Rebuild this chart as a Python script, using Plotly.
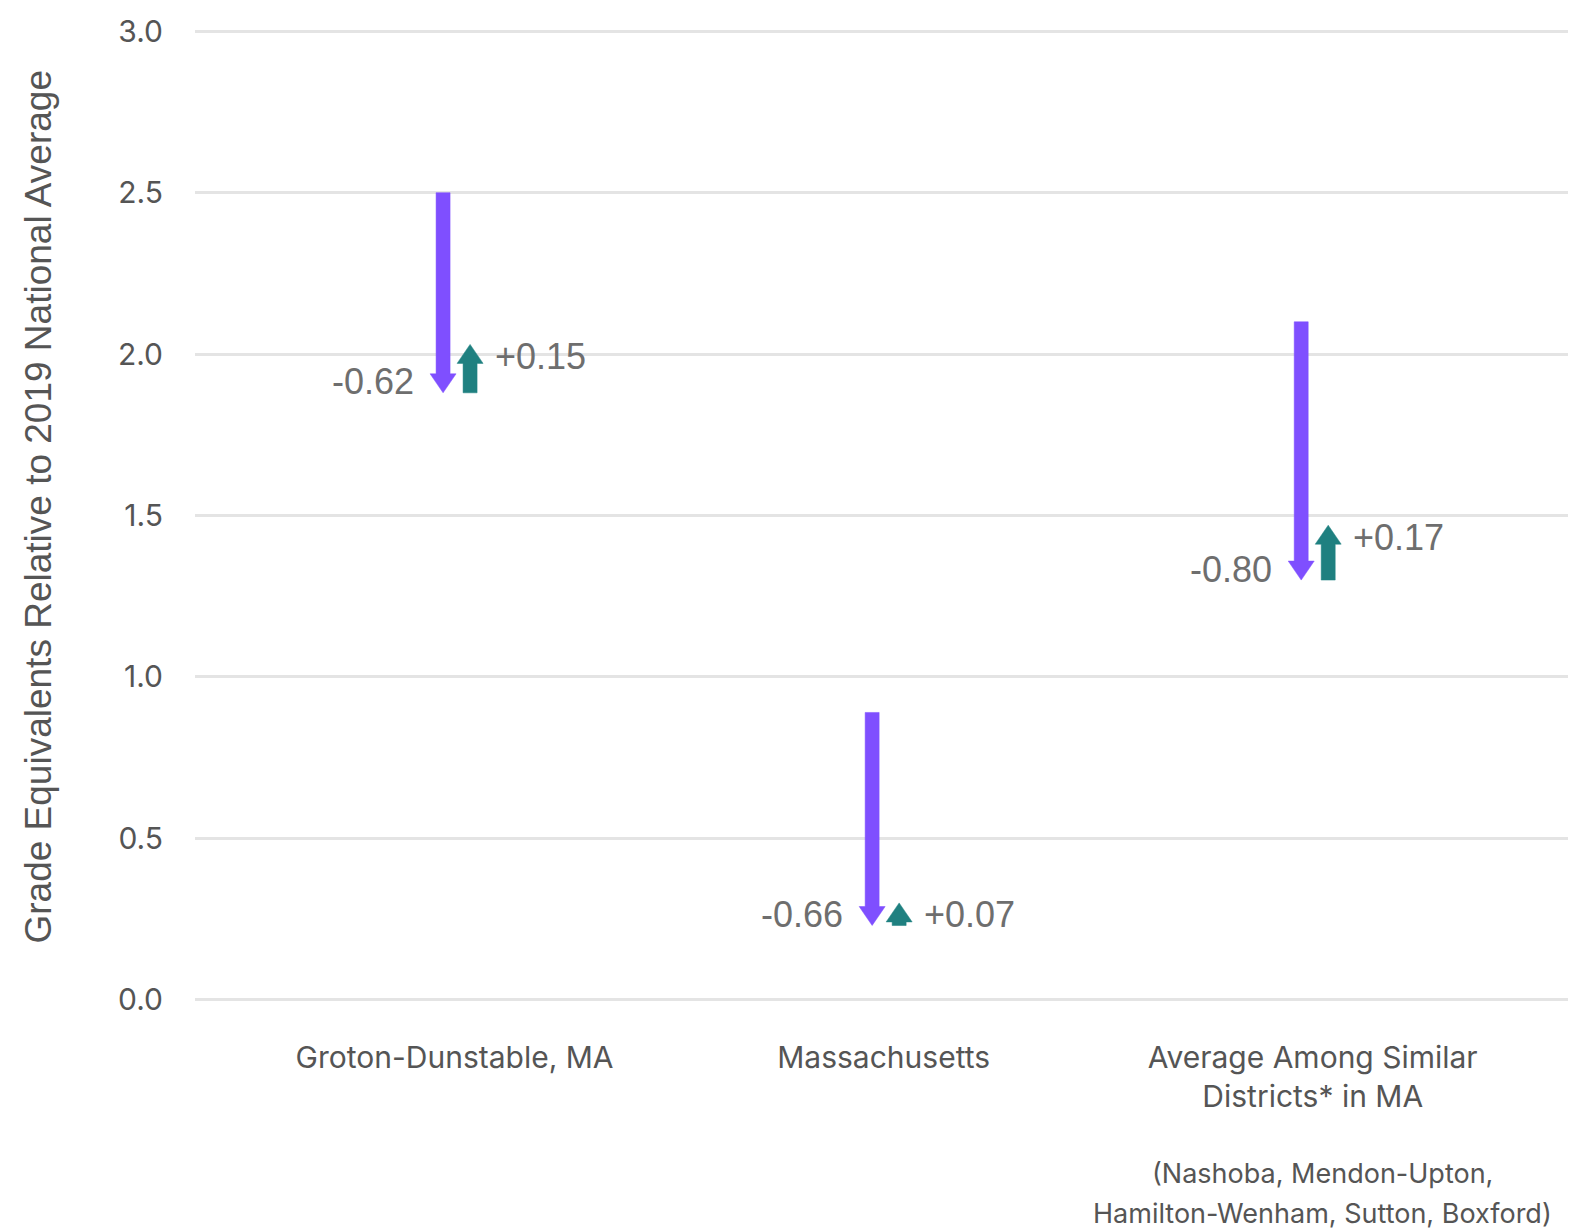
import plotly.graph_objects as go

# ---- data ----
categories = ["Groton-Dunstable, MA", "Massachusetts",
              "Average Among Similar<br>Districts* in MA"]
start_values = [2.50, 0.89, 2.10]
declines = [-0.62, -0.66, -0.80]
recoveries = [0.15, 0.07, 0.17]
y_ticks = [0.0, 0.5, 1.0, 1.5, 2.0, 2.5, 3.0]
note_lines = ["(Nashoba, Mendon-Upton,", "Hamilton-Wenham, Sutton, Boxford)"]
y_title = "Grade Equivalents Relative to 2019 National Average"

# ---- style ----
PURPLE = "#7f4fff"
TEAL = "#1f8080"
GRID = "#e4e4e4"
TXT = "#555555"
VAL = "#6e6e6e"
SANS = "Inter, Roboto, sans-serif"
ARIAL = "Liberation Sans, Arial, sans-serif"
W, H = 1576, 1231
M = dict(l=195, r=8, t=28, b=228)
XR = [-0.605, 2.595]
YR = [-0.01, 3.01]
px_x = (W - M["l"] - M["r"]) / (XR[1] - XR[0])
px_y = (H - M["t"] - M["b"]) / (YR[1] - YR[0])
OFF_P = -11.5 / px_x       # purple arrow offset from category center
OFF_T = 15.5 / px_x        # teal arrow offset from category center
SHAFT = 14 / px_x
HEADW = 26 / px_x
HEADL = 19 / px_y


def arrow(xc, y0, y1):
    d = 1 if y1 > y0 else -1
    hl = min(HEADL, abs(y1 - y0))
    yb = y1 - d * hl
    xs = [xc - SHAFT / 2, xc + SHAFT / 2, xc + SHAFT / 2, xc + HEADW / 2,
          xc, xc - HEADW / 2, xc - SHAFT / 2, xc - SHAFT / 2]
    ys = [y0, y0, yb, yb, y1, yb, yb, y0]
    return xs, ys


fig = go.Figure()
annotations = []
for i, cat in enumerate(categories):
    s = start_values[i]
    e = s + declines[i]
    r = e + recoveries[i]
    xs, ys = arrow(i + OFF_P, s, e)
    fig.add_trace(go.Scatter(x=xs, y=ys, fill="toself", fillcolor=PURPLE,
                             mode="lines", line=dict(width=0.5, color=PURPLE),
                             hoverinfo="skip", showlegend=False))
    xs, ys = arrow(i + OFF_T, e, r)
    fig.add_trace(go.Scatter(x=xs, y=ys, fill="toself", fillcolor=TEAL,
                             mode="lines", line=dict(width=0.5, color=TEAL),
                             hoverinfo="skip", showlegend=False))
    annotations.append(dict(x=i + OFF_P, y=e, xref="x", yref="y",
                            text=f"{declines[i]:.2f}", showarrow=False,
                            xanchor="right", yanchor="middle", xshift=-27, yshift=11,
                            font=dict(family=ARIAL, size=36, color=VAL)))
    annotations.append(dict(x=i + OFF_T, y=r, xref="x", yref="y",
                            text=f"+{recoveries[i]:.2f}", showarrow=False,
                            xanchor="left", yanchor="middle", xshift=23, yshift=-12,
                            font=dict(family=ARIAL, size=36, color=VAL)))

for k, line in enumerate(note_lines):
    annotations.append(dict(x=2, y=YR[0], xref="x", yref="y", yshift=-(170 + 40 * k),
                            xshift=10, text=line, showarrow=False,
                            xanchor="center", yanchor="middle",
                            font=dict(family=SANS, size=27, color=TXT)))

annotations.append(dict(x=0, y=0.5, xref="paper", yref="paper", xshift=-157, yshift=9,
                        text=y_title, textangle=-90, showarrow=False,
                        xanchor="center", yanchor="middle",
                        font=dict(family=ARIAL, size=37, color=TXT)))
fig.update_layout(annotations=annotations)

fig.update_layout(
    width=W, height=H, margin=M,
    paper_bgcolor="white", plot_bgcolor="white",
    font=dict(family=SANS, color=TXT),
    xaxis=dict(range=XR, tickmode="array", tickvals=list(range(len(categories))),
               ticktext=categories, showgrid=False, zeroline=False, showline=False,
               ticks="", ticklabelstandoff=34, tickfont=dict(size=30, color=TXT)),
    yaxis=dict(range=YR, tickmode="array", tickvals=y_ticks,
               ticktext=[f"{v:.1f}" for v in y_ticks],
               showgrid=True, gridcolor=GRID, gridwidth=2.5, zeroline=False,
               showline=False, ticks="", ticklabelstandoff=31,
               tickfont=dict(size=30, color=TXT)),
)

fig.write_html("out.html", config={"displayModeBar": False},
               post_script="document.body.style.margin='0';"
                           "document.body.style.overflow='hidden';")
